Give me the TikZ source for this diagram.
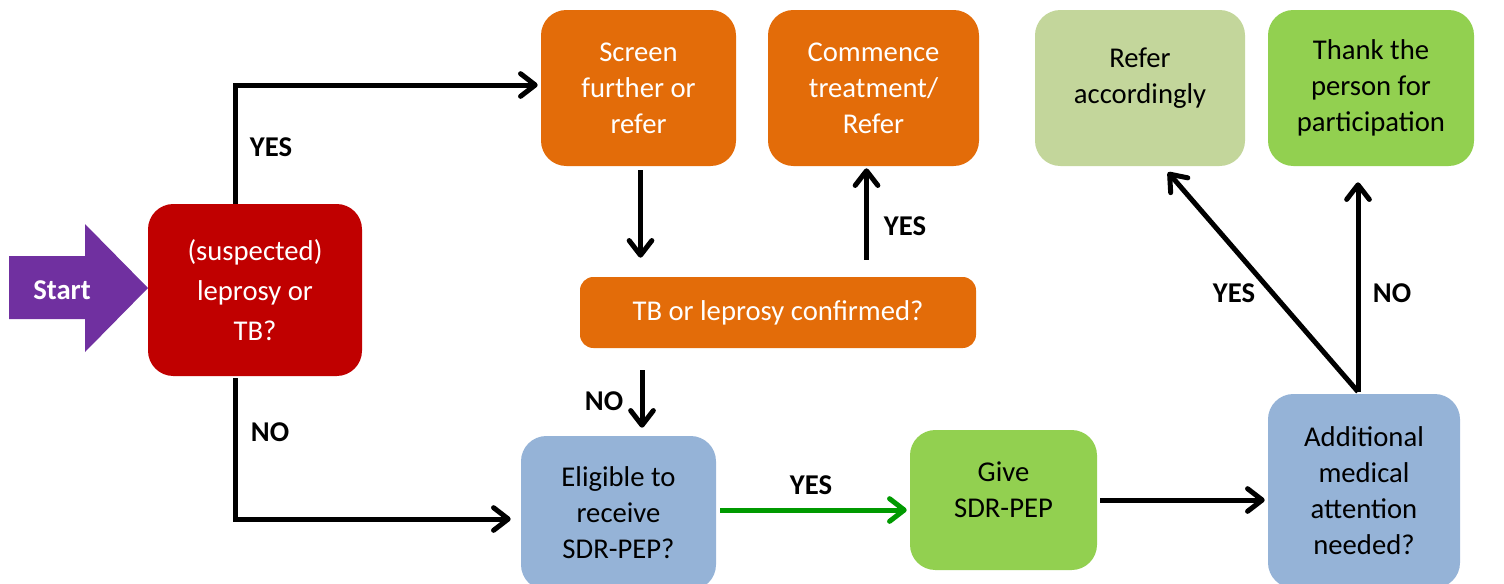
\documentclass[tikz,border=0pt]{standalone}
\usepackage{fontspec}
\setmainfont{Carlito}
\usetikzlibrary{arrows.meta,calc}
\definecolor{cred}{HTML}{C00000}
\definecolor{corange}{HTML}{E36C09}
\definecolor{cpurple}{HTML}{7030A0}
\definecolor{clgreen}{HTML}{C3D69B}
\definecolor{cgreen}{HTML}{92D050}
\definecolor{cblue}{HTML}{95B3D7}
\definecolor{carrowgreen}{HTML}{009A00}
\def\pxu{*0.75pt}
\tikzset{
  box/.style={rounded corners=19pt, align=center, inner sep=0pt,
    font=\fontsize{21.5}{27}\selectfont},
  conn/.style={line width=3.75pt, -{Straight Barb[length=11pt,width=17pt,line cap=round,round]}},
  lbl/.style={font=\fontsize{21.5}{27}\selectfont\bfseries, inner sep=0pt},
}
\begin{document}
\begin{tikzpicture}[x=0.75pt,y=-0.75pt]
\useasboundingbox (0,0) rectangle (1504,583);
% start arrow
\fill[cpurple] (9,256) -- (85,256) -- (85,224) -- (148,288) -- (85,352) -- (85,319) -- (9,319) -- cycle;
\node[lbl, text=white] (start) at (62,290) {Start};
% boxes
\node[box, fill=cred, text=white, minimum width=214\pxu, minimum height=172\pxu,
  font=\fontsize{21.5}{30}\selectfont] (red) at (255,290) {(suspected)\\leprosy or\\TB?};
\node[box, fill=corange, text=white, minimum width=195\pxu, minimum height=156\pxu] (scr) at (638.5,88) {Screen\\further or\\refer};
\node[box, fill=corange, text=white, minimum width=211\pxu, minimum height=156\pxu] (com) at (873.5,88) {Commence\\treatment/\\Refer};
\node[box, fill=corange, text=white, rounded corners=10pt, minimum width=396\pxu, minimum height=71\pxu] (tb) at (778,312.5) {TB or leprosy confirmed?};
\node[box, fill=clgreen, text=black, minimum width=210\pxu, minimum height=156\pxu,
  label={[box, yshift=7.5pt]center:Refer\\accordingly}] (refer) at (1140,88) {};
\node[box, fill=cgreen, text=black, minimum width=206\pxu, minimum height=156\pxu] (thank) at (1371,88) {Thank the\\person for\\participation};
\node[box, fill=cblue, text=black, minimum width=195\pxu, minimum height=154\pxu] (elig) at (618.5,513) {Eligible to\\receive\\SDR-PEP?};
\node[box, fill=cgreen, text=black, minimum width=187\pxu, minimum height=140\pxu,
  label={[box, yshift=8pt]center:Give\\SDR-PEP}] (give) at (1003.5,500) {};
\node[box, fill=cblue, text=black, minimum width=192\pxu, minimum height=194\pxu] (add) at (1364,491) {Additional\\medical\\attention\\needed?};
% connectors
\draw[conn] ($(red.north)+(-20,0)$) |- ($(scr.west)+(-3,-3)$);
\draw[conn] ($(red.south)+(-20,2)$) |- ($(elig.west)+(-10,6)$);
\draw[conn] ($(scr.south)+(2,4)$) -- ($(tb.north -| scr.south)+(2,-19)$);
\draw[conn] ($(tb.north -| com.south)+(-7,-17)$) -- ($(com.south)+(-7,2)$);
\draw[conn] ($(tb.south -| elig.north)+(23.5,22)$) -- ($(elig.north)+(23.5,-8)$);
\draw[conn, carrowgreen] ($(elig.east)+(4,-3)$) -- ($(give.west)+(-3,10)$);
\draw[conn] ($(give.east)+(3,0)$) -- ($(add.west)+(-3,9)$);
\coordinate (addtop) at ($(add.north)+(-6,-2)$);
\draw[conn] (addtop) -- ($(refer.south)+(28,6)$);
\draw[conn] (addtop) -- ($(thank.south -| addtop)+(0,16)$);
% labels
\node[lbl] (l1) at (271,147) {YES};
\node[lbl] (l2) at (270,432) {NO};
\node[lbl] (l3) at (905,226) {YES};
\node[lbl] (l4) at (604,401) {NO};
\node[lbl] (l5) at (811,485) {YES};
\node[lbl] (l6) at (1234,293) {YES};
\node[lbl] (l7) at (1392,293) {NO};
\end{tikzpicture}
\end{document}
